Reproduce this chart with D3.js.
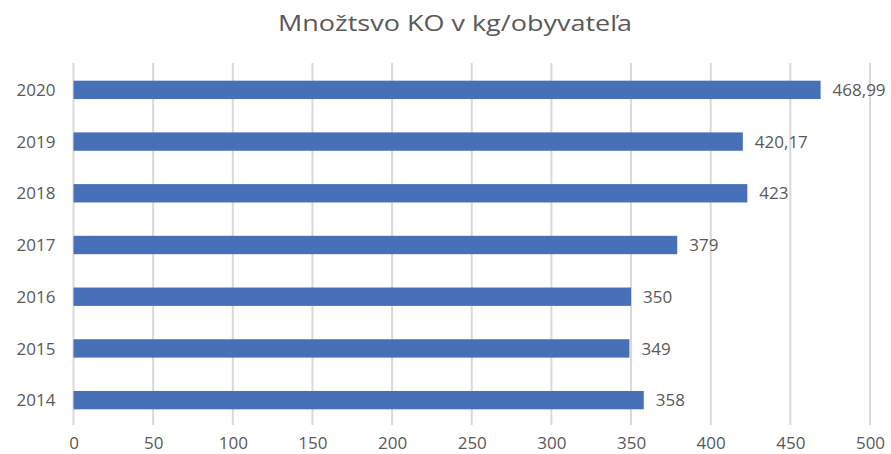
<!DOCTYPE html>
<html>
<head>
<meta charset="utf-8">
<script src="https://cdn.jsdelivr.net/npm/d3@7"></script>
<style>
  html, body { margin: 0; padding: 0; background: #fff; }
  svg { display: block; }
  text { font-family: "Open Sans", "Liberation Sans", sans-serif; fill: #595959; }
</style>
</head>
<body>
<svg id="chart" width="891" height="454"></svg>
<script>
const title = "Množtsvo KO v kg/obyvateľa";
const years = ["2020", "2019", "2018", "2017", "2016", "2015", "2014"];
const values = [468.99, 420.17, 423, 379, 350, 349, 358];
const valueLabels = ["468,99", "420,17", "423", "379", "350", "349", "358"];
const xTicks = [0, 50, 100, 150, 200, 250, 300, 350, 400, 450, 500];

(function () {
const svg = d3.select("#chart");
const mLeft = 73.5, mRight = 870, mTop = 64, mBottom = 426;
const FONT = "'Open Sans', 'Liberation Sans', sans-serif";

const x = d3.scaleLinear().domain([0, 500]).range([mLeft, mRight]);
const y = d3.scaleBand().domain(years).range([mTop, mBottom])
  .paddingInner(0.645).paddingOuter(0.3225);

// gridlines
svg.append("g").selectAll("line").data(xTicks).join("line")
  .attr("x1", d => x(d)).attr("x2", d => x(d))
  .attr("y1", 63).attr("y2", 425)
  .attr("stroke", "#d9d9d9").attr("stroke-width", 2);

// bars
svg.append("g").selectAll("rect").data(values).join("rect")
  .attr("x", x(0))
  .attr("y", (d, i) => y(years[i]))
  .attr("width", d => x(d) - x(0))
  .attr("height", y.bandwidth())
  .attr("fill", "#4770b9");

// value labels
svg.append("g").selectAll("text").data(values).join("text")
  .attr("x", d => x(d) + 12)
  .attr("y", (d, i) => y(years[i]) + y.bandwidth() / 2)
  .attr("dy", "0.36em")
  .attr("font-size", 17)
  .text((d, i) => valueLabels[i]);

// y axis labels
const yAxis = d3.axisLeft(y).tickSize(0).tickPadding(0);
const gy = svg.append("g").attr("transform", `translate(${mLeft - 18},0)`).call(yAxis);
gy.select(".domain").remove();

// x axis labels
const xAxis = d3.axisBottom(x).tickValues(xTicks).tickSize(0).tickPadding(0).tickFormat(d3.format("d"));
const gx = svg.append("g").attr("transform", `translate(0,437)`).call(xAxis);
gx.select(".domain").remove();

svg.selectAll(".tick text")
  .style("font-family", FONT)
  .style("font-size", "17px")
  .style("fill", "#595959");
gy.selectAll(".tick text").attr("dy", "0.36em");

// title
svg.append("text")
  .attr("x", 455).attr("y", 30.5)
  .attr("text-anchor", "middle")
  .attr("font-size", 22)
  .attr("textLength", 354)
  .attr("lengthAdjust", "spacingAndGlyphs")
  .text(title);
})();
</script>
</body>
</html>
